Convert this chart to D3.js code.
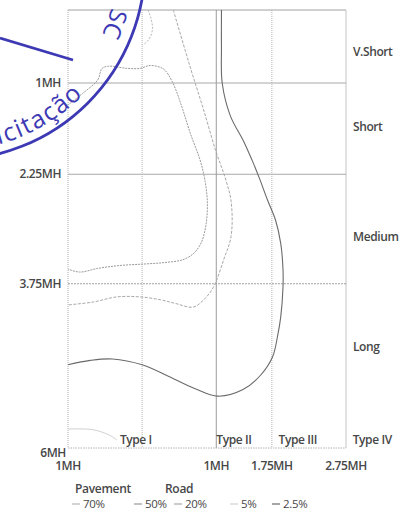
<!DOCTYPE html>
<html>
<head>
<meta charset="utf-8">
<script src="https://cdn.jsdelivr.net/npm/d3@7"></script>
<style>
  html, body { margin: 0; padding: 0; background: #fff; }
  svg { display: block; }
  text { font-family: "Open Sans", "Noto Sans", sans-serif; }
</style>
</head>
<body>
<svg id="chart" width="406" height="516"></svg>
<script>
// Depth (MH) down the page, lateral offset (MH) across: negative = pavement side, positive = road side
const yTicks = [1, 2.25, 3.75, 6];
const yTickLabels = ["1MH", "2.25MH", "3.75MH", "6MH"];
const xGrid = [0, 1, 1.75];
const xTicks = [-1, 1, 1.75, 2.75];
const xTickLabels = ["1MH", "1MH", "1.75MH", "2.75MH"];

// Duration bands on the right and type bands along the bottom
const durationLabels = ["V.Short", "Short", "Medium", "Long"];
const durationAt = [0.63, 1.66, 3.16, 4.67];
const typeLabels = ["Type I", "Type II", "Type III", "Type IV"];
const typeAt = [-0.3, 1.0, 1.84, 2.84];

// Probability contours: [lateral MH, depth MH]
const levels = ["70%", "50%", "20%", "5%", "2.5%"];
const c70 = [[0.08,0],[0.12,0.12],[0.14,0.25],[0.11,0.37],[0.05,0.45],[0,0.48]];
const c50 = [[-1,1.3],[-0.8,1.14],[-0.6,0.96],[-0.54,0.8],[-0.45,0.77],[-0.2,0.8],[-0.03,0.8],[0.11,0.76],[0.29,0.81],[0.41,0.99],
             [0.54,1.34],[0.65,1.69],[0.78,2.05],[0.85,2.35],[0.88,2.65],[0.86,2.95],[0.8,3.18],[0.7,3.33],[0.55,3.42],
             [0.3,3.46],[0.02,3.48],[-0.3,3.5],[-0.6,3.54],[-0.84,3.59],[-1,3.55]];
const c20 = [[0.42,0],[0.58,0.55],[0.69,0.92],[0.83,1.37],[0.99,1.92],[1.12,2.3],[1.2,2.62],[1.2,3.1],[1.1,3.42],
             [0.96,3.8],[0.83,3.97],[0.69,4.07],[0.45,4.02],[0.25,3.97],[-0.03,3.93],[-0.34,3.93],[-0.66,4.0],[-1,4.04]];
const c5 = [[-1,5.74],[-0.66,5.75],[-0.45,5.82],[-0.34,5.89]];
const c25 = [[1.07,0],[1.07,0.5],[1.08,1.0],[1.19,1.45],[1.37,1.8],[1.48,2.05],[1.58,2.3],[1.69,2.6],[1.8,2.88],[1.87,3.2],
             [1.9,3.55],[1.9,3.8],[1.87,4.2],[1.83,4.45],[1.76,4.75],[1.6,5.0],[1.36,5.2],[1.02,5.29],[0.7,5.18],[0.36,5.02],
             [0.0,4.86],[-0.4,4.78],[-0.7,4.8],[-1.0,4.86]];
const contours = [c70, c50, c20, c5, c25];

const levelStyle = {
  "70%":  { stroke: "#b8b8b8", width: 1,   dash: "2,1.5" },
  "50%":  { stroke: "#9a9a9a", width: 1,   dash: "2,1" },
  "20%":  { stroke: "#a8a8a8", width: 1,   dash: "3,1.5" },
  "5%":   { stroke: "#d0d0d0", width: 1,   dash: null },
  "2.5%": { stroke: "#6a6a6a", width: 1.1, dash: null }
};

const svg = d3.select("#chart");
const x = d3.scaleLinear().domain([-1, 2.75]).range([68, 346]);
const y = d3.scaleLinear().domain([0, 6]).range([10, 448]);
const ink = "#474747";
const fs = 12;

// frame
const g = svg.append("g");
g.append("line").attr("x1", x(-1)).attr("x2", x(2.75)).attr("y1", y(0)).attr("y2", y(0))
  .attr("stroke", "#a0a0a0").attr("stroke-width", 1);
g.append("line").attr("x1", x(2.75)).attr("x2", x(2.75)).attr("y1", y(0)).attr("y2", y(6))
  .attr("stroke", "#c4c4c4").attr("stroke-width", 1);
g.append("line").attr("x1", x(-1)).attr("x2", x(-1)).attr("y1", y(0)).attr("y2", y(6))
  .attr("stroke", "#b0b0b0").attr("stroke-dasharray", "1,1");
g.append("line").attr("x1", x(-1)).attr("x2", x(2.75)).attr("y1", y(6)).attr("y2", y(6))
  .attr("stroke", "#b4b4b4").attr("stroke-dasharray", "1.5,1");

// grid
g.selectAll(".hg").data(yTicks.slice(0, 3)).join("line")
  .attr("x1", x(-1)).attr("x2", x(2.75)).attr("y1", d => y(d)).attr("y2", d => y(d))
  .attr("stroke", (d, i) => i === 2 ? "#a0a0a0" : "#a8a8a8")
  .attr("stroke-dasharray", (d, i) => i === 2 ? "2,1" : null);
g.selectAll(".vg").data(xGrid).join("line")
  .attr("x1", d => x(d)).attr("x2", d => x(d)).attr("y1", y(0)).attr("y2", y(6))
  .attr("stroke", (d, i) => i === 1 ? "#9a9a9a" : "#b4b4b4")
  .attr("stroke-dasharray", (d, i) => i === 1 ? null : "1,1");

// contours
const line = d3.line().x(d => x(d[0])).y(d => y(d[1])).curve(d3.curveCatmullRom.alpha(0.5));
contours.forEach((pts, i) => {
  const s = levelStyle[levels[i]];
  svg.append("path").attr("d", line(pts)).attr("fill", "none")
    .attr("stroke", s.stroke).attr("stroke-width", s.width)
    .attr("stroke-dasharray", s.dash);
});

// y tick labels
svg.selectAll(".yl").data(yTicks).join("text")
  .attr("x", (d, i) => i === 3 ? 66 : 61).attr("y", (d, i) => y(d) + (i === 3 ? 9 : 4))
  .attr("text-anchor", "end").attr("font-size", fs).attr("font-weight", 600)
  .attr("fill", ink).attr("letter-spacing", -0.4)
  .text((d, i) => yTickLabels[i]);

// x tick labels
svg.selectAll(".xl").data(xTicks).join("text")
  .attr("x", d => x(d)).attr("y", 470)
  .attr("text-anchor", "middle").attr("font-size", fs).attr("font-weight", 600)
  .attr("fill", ink).attr("letter-spacing", -0.4)
  .text((d, i) => xTickLabels[i]);

// duration bands
svg.selectAll(".dl").data(durationLabels).join("text")
  .attr("x", 353).attr("y", (d, i) => y(durationAt[i]))
  .attr("font-size", fs).attr("font-weight", 600).attr("fill", ink).attr("letter-spacing", -0.4)
  .text(d => d);

// type bands
svg.selectAll(".tl").data(typeLabels).join("text")
  .attr("x", (d, i) => x(typeAt[i])).attr("y", 444)
  .attr("font-size", fs).attr("font-weight", 600).attr("fill", ink).attr("letter-spacing", -0.4)
  .text(d => d);

// legend
const lg = svg.append("g");
lg.append("text").attr("x", 75).attr("y", 493).attr("font-size", fs).attr("font-weight", 600)
  .attr("fill", ink).attr("letter-spacing", -0.3).text("Pavement");
lg.append("text").attr("x", 165).attr("y", 493).attr("font-size", fs).attr("font-weight", 600)
  .attr("fill", ink).attr("letter-spacing", -0.3).text("Road");
const legendX = [72, 134, 174, 230, 272];
levels.forEach((lv, i) => {
  const s = levelStyle[lv];
  lg.append("line").attr("x1", legendX[i]).attr("x2", legendX[i] + 8).attr("y1", 504).attr("y2", 504)
    .attr("stroke", s.stroke).attr("stroke-width", 1.2);
  lg.append("text").attr("x", legendX[i] + 11).attr("y", 508).attr("font-size", 11.5)
    .attr("fill", ink).attr("letter-spacing", -0.3).text(lv);
});

// rubber stamp across the upper-left corner
const ink2 = "#3d39b4";
const st = svg.append("g").attr("fill", "none").attr("stroke", ink2);
const cx = -50, cy = -35, r = 195;
st.append("circle").attr("cx", cx).attr("cy", cy).attr("r", r).attr("stroke-width", 2.8);
st.append("line").attr("x1", 0).attr("y1", 38).attr("x2", 73).attr("y2", 60).attr("stroke-width", 2.8);
const rad = a => a * Math.PI / 180;
const pt = (rr, a) => [cx + rr * Math.cos(rad(a)), cy + rr * Math.sin(rad(a))];
const defs = svg.append("defs");
// lower ring reads counter-clockwise, upper ring reads clockwise
const rLow = r - 9, rTop = r - 28;
const a0 = pt(rLow, 125), a1 = pt(rLow, -10);
defs.append("path").attr("id", "stampLow")
  .attr("d", `M${a0[0]},${a0[1]} A${rLow},${rLow} 0 0 0 ${a1[0]},${a1[1]}`);
const b0 = pt(rTop, -60), b1 = pt(rTop, 60);
defs.append("path").attr("id", "stampTop")
  .attr("d", `M${b0[0]},${b0[1]} A${rTop},${rTop} 0 0 1 ${b1[0]},${b1[1]}`);
svg.append("text").attr("font-family", "Liberation Sans, Arial, sans-serif")
  .attr("font-size", 25).attr("fill", ink2).attr("letter-spacing", 1.5)
  .append("textPath").attr("href", "#stampLow")
  .attr("startOffset", (rLow * rad(125 - 44)).toFixed(1)).attr("text-anchor", "end")
  .text("Solicitação");
svg.append("text").attr("font-family", "Liberation Sans, Arial, sans-serif")
  .attr("font-size", 24).attr("fill", ink2)
  .append("textPath").attr("href", "#stampTop")
  .attr("startOffset", (rTop * rad(60 + 24.5)).toFixed(1)).attr("text-anchor", "end")
  .text("SC");
</script>
</body>
</html>
